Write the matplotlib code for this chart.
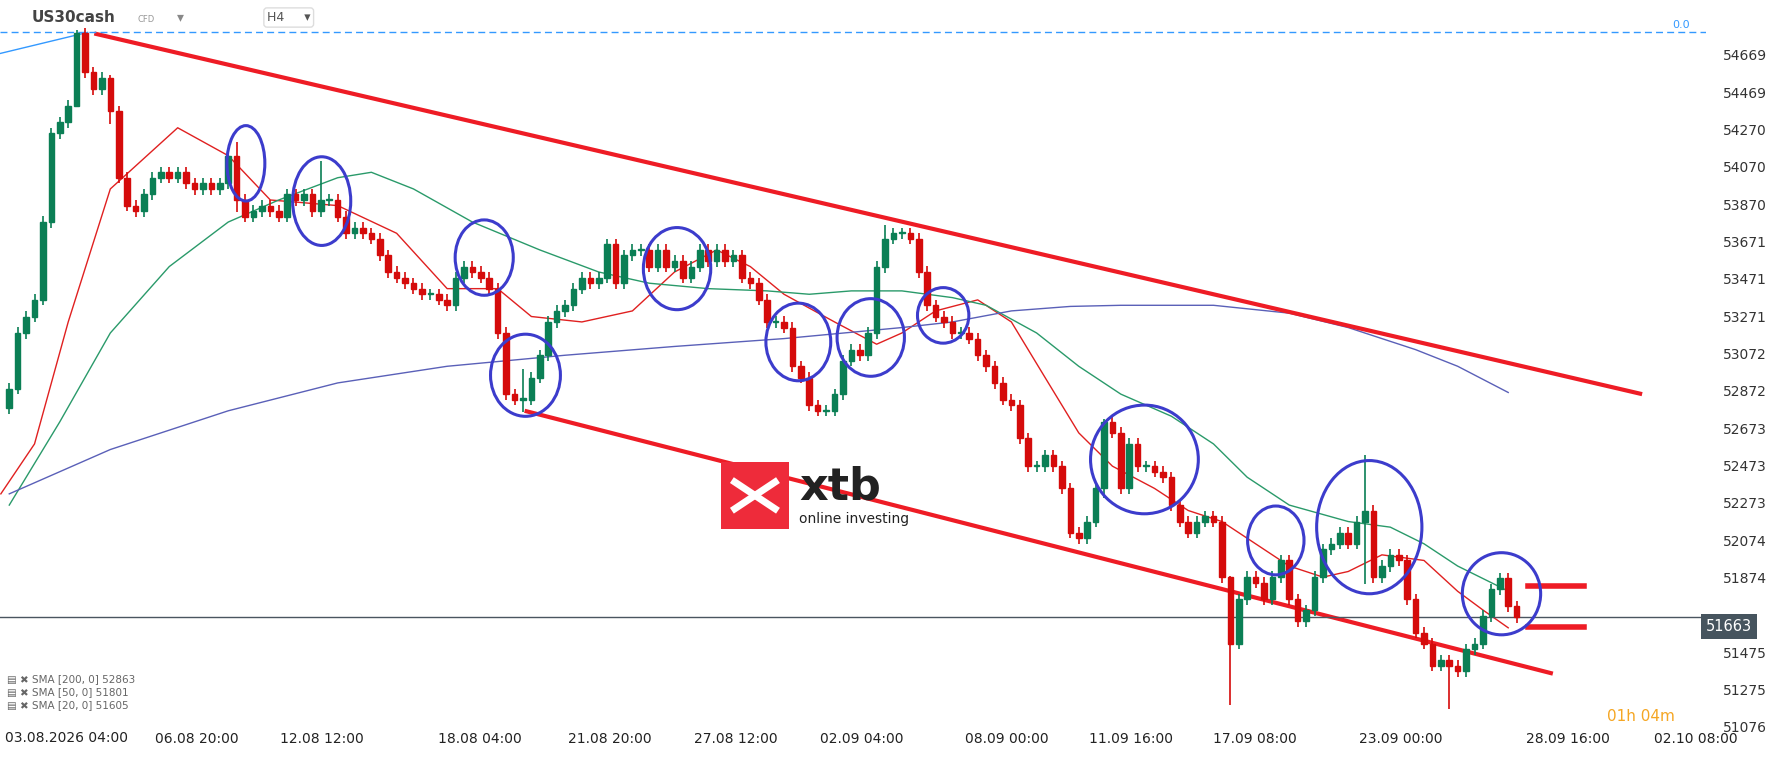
import matplotlib.pyplot as plt
import numpy as np
from matplotlib.patches import Ellipse, Rectangle

# close prices, H4 candles (open = previous close)
closes = [52884, 53181, 53269, 53358, 53774, 54248, 54307, 54396, 54782, 54574,
          54485, 54545, 54367, 54011, 53862, 53833, 53922, 54011, 54040, 54011,
          54040, 53981, 53951, 53981, 53951, 53981, 54129, 53892, 53803, 53833,
          53862, 53833, 53803, 53922, 53892, 53922, 53833, 53892, 53892, 53803,
          53714, 53744, 53714, 53685, 53596, 53507, 53477, 53447, 53418, 53388,
          53388, 53358, 53329, 53477, 53536, 53507, 53477, 53418, 53181, 52854,
          52825, 52825, 52943, 53062, 53240, 53299, 53329, 53418, 53477, 53447,
          53477, 53655, 53447, 53596, 53625, 53625, 53536, 53625, 53536, 53566,
          53477, 53536, 53625, 53566, 53625, 53566, 53596, 53477, 53447, 53358,
          53240, 53240, 53210, 53003, 52943, 52795, 52765, 52765, 52854, 53032,
          53092, 53062, 53181, 53536, 53685, 53714, 53714, 53685, 53507, 53329,
          53269, 53240, 53181, 53181, 53151, 53062, 53003, 52914, 52825, 52795,
          52617, 52469, 52469, 52528, 52469, 52350, 52113, 52084, 52173, 52350,
          52706, 52647, 52350, 52588, 52469, 52469, 52439, 52410, 52261, 52173,
          52113, 52173, 52202, 52173, 51876, 51520, 51757, 51876, 51846, 51757,
          51876, 51965, 51757, 51639, 51698, 51876, 52024, 52054, 52113, 52054,
          52173, 52232, 51876, 51935, 51995, 51965, 51757, 51579, 51520, 51402,
          51431, 51402, 51372, 51490, 51520, 51668, 51810, 51870, 51720, 51663]
first_open = 52780
wick = 30
# notable long wicks: candle index -> (high, low)
long_wicks = {8: (54800, 54500), 12: (54560, 54300), 27: (54200, 53830), 37: (54100, 53800),
              61: (52990, 52760), 104: (53760, 53500), 130: (52720, 52300),
              145: (51880, 51190), 161: (52530, 51840), 171: (51460, 51170)}

sma20_x = [-1, 3, 7, 12, 20, 26, 31, 39, 46, 52, 58, 62, 68, 74, 79, 84, 88, 92, 98, 103,
           106, 110, 115, 119, 123, 127, 131, 136, 140, 144, 148, 152, 156, 159, 163, 168, 172, 175, 178]
sma20_y = [52321, 52588, 53240, 53951, 54278, 54129, 53892, 53862, 53714, 53418, 53418, 53269,
           53240, 53299, 53507, 53625, 53536, 53388, 53240, 53121, 53181, 53299, 53358, 53240,
           52943, 52647, 52469, 52350, 52232, 52173, 52054, 51935, 51876, 51906, 51995, 51965,
           51800, 51700, 51605]
sma50_x = [0, 6, 12, 19, 26, 32, 39, 43, 48, 55, 63, 70, 76, 83, 90, 95, 100, 106, 112, 116,
           122, 127, 132, 138, 143, 147, 152, 159, 164, 168, 172, 176, 178]
sma50_y = [52261, 52706, 53181, 53536, 53774, 53892, 54011, 54040, 53951, 53774, 53625, 53507,
           53447, 53418, 53406, 53388, 53406, 53406, 53370, 53329, 53181, 53003, 52854, 52736,
           52588, 52410, 52261, 52173, 52143, 52054, 51935, 51846, 51801]
sma200_x = [0, 12, 26, 39, 52, 66, 79, 92, 106, 112, 119, 126, 132, 143, 152, 159, 167, 172, 178]
sma200_y = [52321, 52558, 52765, 52914, 53003, 53062, 53109, 53151, 53210, 53240, 53299, 53323,
            53329, 53329, 53287, 53210, 53092, 53003, 52863]

upper_line = ([10.1, 193.9], [54782, 52854])
lower_line = ([61.2, 183.3], [52765, 51360])
levels = [51829, 51609]
ellipses = [(28.1, 54088, 4.5, 403), (37.1, 53886, 6.9, 474), (56.4, 53584, 6.9, 403),
            (61.3, 52955, 8.3, 439), (79.3, 53525, 8.0, 439), (93.7, 53133, 7.7, 415),
            (102.3, 53157, 8.0, 415), (110.9, 53275, 6.1, 297), (134.8, 52505, 12.8, 581),
            (150.4, 52072, 6.7, 368), (161.5, 52143, 12.5, 712), (177.2, 51787, 9.3, 439)]

yticks = [54669, 54469, 54270, 54070, 53870, 53671, 53471, 53271, 53072, 52872,
          52673, 52473, 52273, 52074, 51874, 51475, 51275, 51076]
xtick_pos = [22.3, 37.1, 55.9, 71.3, 86.3, 101.2, 118.5, 133.2, 147.9, 165.2, 185.1, 200.3]
xtick_labels = ['06.08 20:00', '12.08 12:00', '18.08 04:00', '21.08 20:00',
                '27.08 12:00', '02.09 04:00', '08.09 00:00', '11.09 16:00', '17.09 08:00',
                '23.09 00:00', '28.09 16:00', '02.10 08:00']
first_label = '03.08.2026 04:00'
last_price = 51663

GREEN = '#0b7f55'
RED = '#d50b0b'
fig = plt.figure(figsize=(17.68, 7.61), dpi=100)
ax = fig.add_axes([0, 0.045, 0.965, 0.94])

opens = [first_open] + closes[:-1]
for i, (o, c) in enumerate(zip(opens, closes)):
    col = GREEN if c >= o else RED
    hi, lo = max(o, c) + wick, min(o, c) - wick
    if i in long_wicks:
        hi, lo = long_wicks[i]
    ax.vlines(i, lo, hi, color=col, lw=1.2, zorder=3)
    ax.add_patch(Rectangle((i - 0.33, min(o, c)), 0.66, max(abs(c - o), 6), color=col, zorder=4))

ax.plot(sma20_x, sma20_y, color='#e02020', lw=1)
ax.plot(sma50_x, sma50_y, color='#2a9a6a', lw=1)
ax.plot(sma200_x, sma200_y, color='#5a60b8', lw=1)

ax.plot(*upper_line, color='#ee1c25', lw=3, solid_capstyle='butt')
ax.plot(*lower_line, color='#ee1c25', lw=3, solid_capstyle='butt')
for lv in levels:
    ax.plot([180.3, 187], [lv, lv], color='#ee1c25', lw=4)
for cx, cy, w, h in ellipses:
    ax.add_patch(Ellipse((cx, cy), w, h, fill=False, ec='#3c3ccc', lw=2.2, zorder=6))

ax.axhline(54788, color='#3399ff', lw=1, ls=(0, (5, 3)))
ax.plot([-1.1, 9.3], [54675, 54788], color='#3399ff', lw=1)
ax.text(198.5, 54800, '0.0', color='#3399ff', fontsize=8, ha='center', va='bottom')
ax.axhline(last_price, color='#4a5560', lw=1)

ax.set_xlim(-1.1, 201.5)
ax.set_ylim(51135, 54900)
for s in ax.spines.values():
    s.set_visible(False)
ax.yaxis.tick_right()
ax.set_yticks(yticks)
ax.set_yticklabels([str(v) for v in yticks], fontsize=10, color='#333333')
ax.set_xticks(xtick_pos)
ax.set_xticklabels(xtick_labels, fontsize=10, color='#222222')
ax.tick_params(length=0, pad=4)
ax.tick_params(axis='y', pad=12)
fig.text(0.003, 0.039, first_label, fontsize=10, color='#222222', ha='left', va='top')
ax.text(1.0, (last_price - 51135) / (54900 - 51135), str(last_price), transform=ax.transAxes,
        fontsize=10.5, color='white', ha='left', va='center',
        bbox=dict(boxstyle='square,pad=0.35', fc='#46545e', ec='none'), clip_on=False)

# header
fig.text(0.018, 0.977, 'US30cash', fontsize=11, fontweight='bold', color='#444444', va='center')
fig.text(0.078, 0.975, 'CFD', fontsize=6, color='#999999', va='center')
fig.text(0.1, 0.978, '▾', fontsize=10, color='#888888', va='center')
fig.text(0.151, 0.977, 'H4     ▾', fontsize=9, color='#555555', va='center',
         bbox=dict(boxstyle='round,pad=0.25', fc='white', ec='#dddddd'))

# legend
for j, t in enumerate(['SMA [200, 0] 52863', 'SMA [50, 0] 51801', 'SMA [20, 0] 51605']):
    fig.text(0.004, 0.108 - j * 0.017, '▤ ✖ ' + t, fontsize=7.5, color='#666666', va='center')
fig.text(0.928, 0.058, '01h 04m', fontsize=11, color='#f5a623', ha='center', va='center')

# logo
lx = fig.add_axes([0.408, 0.305, 0.038, 0.088])
lx.add_patch(Rectangle((0, 0), 1, 1, color='#ee2b3a'))
lx.plot([0.2, 0.8], [0.3, 0.7], color='white', lw=5)
lx.plot([0.2, 0.8], [0.7, 0.3], color='white', lw=5)
lx.set_xlim(0, 1)
lx.set_ylim(0, 1)
lx.axis('off')
fig.text(0.452, 0.36, 'xtb', fontsize=32, fontweight='bold', color='#222222', va='center')
fig.text(0.452, 0.318, 'online investing', fontsize=10, color='#222222', va='center')

fig.savefig('out.png', dpi=100, facecolor='white')
